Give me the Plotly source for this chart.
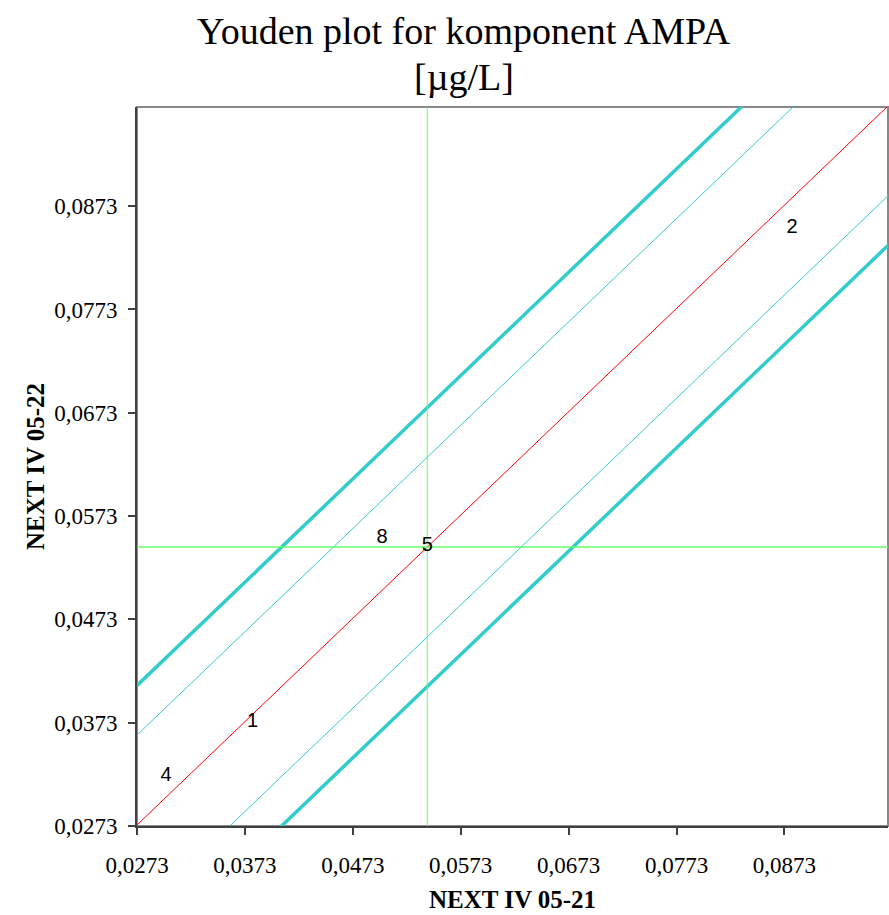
import plotly.graph_objects as go

# Lab results (sample 05-21 on x, sample 05-22 on y) and their labels
lab_ids = ["4", "1", "8", "5", "2"]
x_vals = [0.0300, 0.0380, 0.0500, 0.0542, 0.0880]
y_vals = [0.0321, 0.0374, 0.0552, 0.0544, 0.0852]

# Medians of the two samples
median_x = 0.0542
median_y = 0.0543

# Vertical offsets of the limit lines from the 45-degree median line
inner_offset = 0.0087
outer_offset = 0.0135

# Axis range and tick labels
axis_min = 0.0273
axis_max = 0.0969
tick_vals = [0.0273, 0.0373, 0.0473, 0.0573, 0.0673, 0.0773, 0.0873]
tick_text = ["0,0273", "0,0373", "0,0473", "0,0573", "0,0673", "0,0773", "0,0873"]

CYAN = "#33CCCC"
GREEN = "#66FF66"
RED = "#FF0000"
SERIF = "Liberation Serif, Times New Roman"

fig = go.Figure()

x_line = [axis_min - 0.05, axis_max + 0.05]
base = median_y - median_x


def diag(offset, color, width):
    fig.add_trace(go.Scatter(
        x=x_line, y=[v + base + offset for v in x_line],
        mode="lines", line=dict(color=color, width=width),
        hoverinfo="skip", showlegend=False))


diag(outer_offset, CYAN, 3.5)
diag(inner_offset, CYAN, 1)
diag(0.0, RED, 1)
diag(-inner_offset, CYAN, 1)
diag(-outer_offset, CYAN, 3.5)

# Median cross-hair
fig.add_trace(go.Scatter(x=[median_x, median_x], y=[axis_min, axis_max],
                         mode="lines", line=dict(color=GREEN, width=1),
                         hoverinfo="skip", showlegend=False))
fig.add_trace(go.Scatter(x=[axis_min, axis_max], y=[median_y, median_y],
                         mode="lines", line=dict(color=GREEN, width=1.5),
                         hoverinfo="skip", showlegend=False))

# Lab points drawn as their id numbers
fig.add_trace(go.Scatter(x=x_vals, y=y_vals, mode="text", text=lab_ids,
                         textposition="middle center",
                         textfont=dict(family="Liberation Sans, Arial", size=20, color="black"),
                         showlegend=False))

axis_common = dict(
    range=[axis_min, axis_max], tickvals=tick_vals, ticktext=tick_text,
    showgrid=False, zeroline=False, showline=True, linecolor="#404040", linewidth=2,
    ticks="outside", ticklen=7, tickcolor="#404040", tickwidth=1.5,
    tickfont=dict(family=SERIF, size=23, color="black"),
)

fig.update_layout(
    width=889, height=915,
    margin=dict(l=137, r=1, t=107, b=89),
    paper_bgcolor="white", plot_bgcolor="white",
    xaxis=dict(axis_common, ticklabelstandoff=10,
               title=dict(text="<b>NEXT IV 05-21</b>", standoff=14,
                          font=dict(family=SERIF, size=25, color="black"))),
    yaxis=dict(axis_common, ticklabelstandoff=6,
               title=dict(text="<b>NEXT IV 05-22</b>", standoff=2,
                          font=dict(family=SERIF, size=25, color="black"))),
    annotations=[
        dict(text="Youden plot for komponent AMPA", xref="paper", yref="paper",
             x=(464 - 137) / 751, y=1 + (107 - 31) / 719, xanchor="center", yanchor="middle",
             showarrow=False, font=dict(family=SERIF, size=38, color="black")),
        dict(text="[µg/L]", xref="paper", yref="paper",
             x=(464 - 137) / 751, y=1 + (107 - 77) / 719, xanchor="center", yanchor="middle",
             showarrow=False, font=dict(family=SERIF, size=38, color="black")),
    ],
    shapes=[dict(type="rect", xref="paper", yref="paper", x0=0, y0=0, x1=1, y1=1,
                 line=dict(color="#888888", width=2), layer="below")],
)

fig.write_html("out.html")
